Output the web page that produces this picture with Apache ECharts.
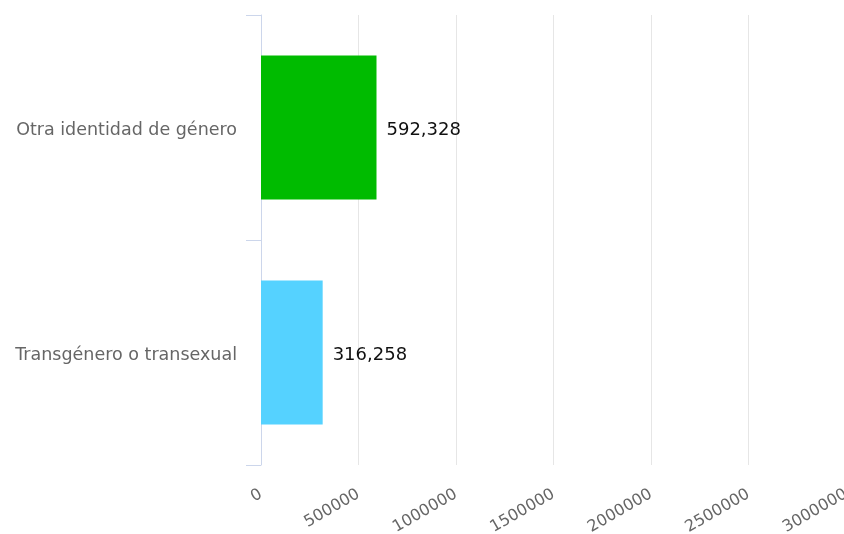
<!DOCTYPE html>
<html>
<head>
<meta charset="utf-8">
<script src="https://cdn.jsdelivr.net/npm/echarts@6/dist/echarts.min.js"></script>
<style>
html,body{margin:0;padding:0;background:#fff;}
#chart{width:844px;height:534px;}
</style>
</head>
<body>
<div id="chart"></div>
<script>
var categories = ['Otra identidad de género', 'Transgénero o transexual'];
var values = [592328, 316258];
var barColors = ['#00bb00', '#55d2ff'];
var xTicks = [0, 500000, 1000000, 1500000, 2000000, 2500000, 3000000];

var chart = echarts.init(document.getElementById('chart'), null, {renderer: 'canvas'});
var FONT = 'DejaVu Sans';
chart.setOption({
  animation: false,
  backgroundColor: '#ffffff',
  grid: {left: 261, top: 15, width: 585, height: 450, containLabel: false, outerBoundsMode: 'none'},
  xAxis: {
    type: 'value',
    min: xTicks[0],
    max: xTicks[xTicks.length - 1],
    interval: xTicks[1] - xTicks[0],
    axisLine: {show: false},
    axisTick: {show: false},
    splitLine: {show: true, lineStyle: {color: '#e6e6e6', width: 1}},
    axisLabel: {
      rotate: 30,
      margin: 28,
      color: '#666666',
      fontFamily: FONT,
      fontSize: 16,
      showMaxLabel: true,
      hideOverlap: false,
      formatter: function (v) { return String(v); }
    }
  },
  yAxis: {
    type: 'category',
    inverse: true,
    data: categories,
    axisLine: {show: true, lineStyle: {color: '#ccd6eb', width: 1}},
    axisTick: {show: true, length: 15, lineStyle: {color: '#ccd6eb', width: 1}},
    splitLine: {show: false},
    axisLabel: {
      margin: 24,
      color: '#666666',
      fontFamily: FONT,
      fontSize: 17.5,
      verticalAlign: 'top',
      lineHeight: 6
    }
  },
  series: [{
    type: 'bar',
    barWidth: 144,
    data: values.map(function (v, i) {
      return {value: v, itemStyle: {color: barColors[i]}};
    }),
    label: {
      show: true,
      position: 'right',
      distance: 10,
      offset: [0, 3],
      color: '#111111',
      fontFamily: FONT,
      fontSize: 18,
      formatter: function (p) { return p.value.toLocaleString('en-US'); }
    }
  }]
});
</script>
</body>
</html>
